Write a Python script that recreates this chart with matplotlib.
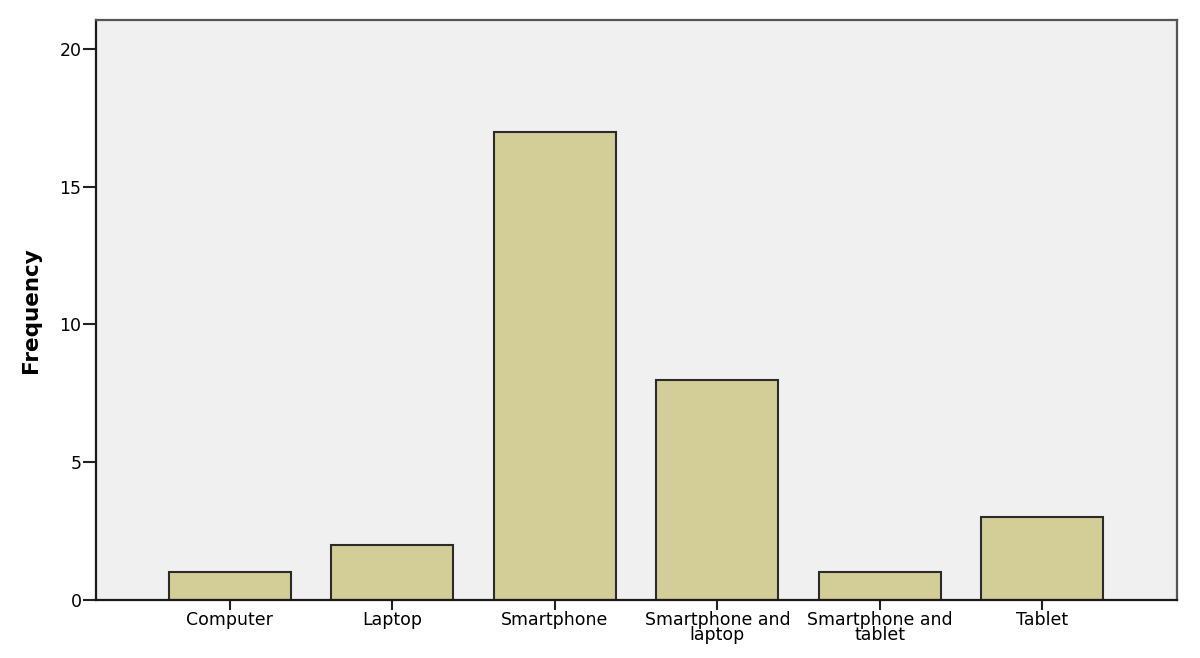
import matplotlib.pyplot as plt

# device counts
categories = ["Computer", "Laptop", "Smartphone", "Smartphone and\nlaptop",
              "Smartphone and\ntablet", "Tablet"]
counts = [1, 2, 17, 8, 1, 3]
yticks = [0, 5, 10, 15, 20]

plt.rcParams['font.family'] = ['DejaVu Sans']

fig = plt.figure(figsize=(12, 6.58), dpi=100)
ax = fig.add_axes([0.08, 0.0881, 0.901, 0.8815])
ax.set_facecolor("#F0F0F0")

x = range(len(categories))
ax.bar(x, counts, width=0.75, color="#D3CE97", edgecolor="#2b2b2b", linewidth=1.5)

ax.set_xlim(-0.824, 5.83)
ax.set_ylim(0, 21.05)
ax.set_xticks(list(x))
ax.set_xticklabels(categories, fontsize=12.5, linespacing=0.75)
ax.set_yticks(yticks)
ax.set_yticklabels([str(v) for v in yticks], fontsize=12.5)
ax.tick_params(axis='y', direction='out', length=9.5, width=1.5, color="#222222", pad=1)
ax.tick_params(axis='x', direction='out', length=7, width=1.5, color="#222222", pad=1)

ax.set_ylabel("Frequency", fontsize=15.5, fontweight='bold', labelpad=13)

for side in ['left', 'bottom']:
    ax.spines[side].set_linewidth(1.6)
    ax.spines[side].set_color("#1a1a1a")
for side in ['top', 'right']:
    ax.spines[side].set_linewidth(1.6)
    ax.spines[side].set_color("#555555")

fig.savefig("out.png", dpi=100)
